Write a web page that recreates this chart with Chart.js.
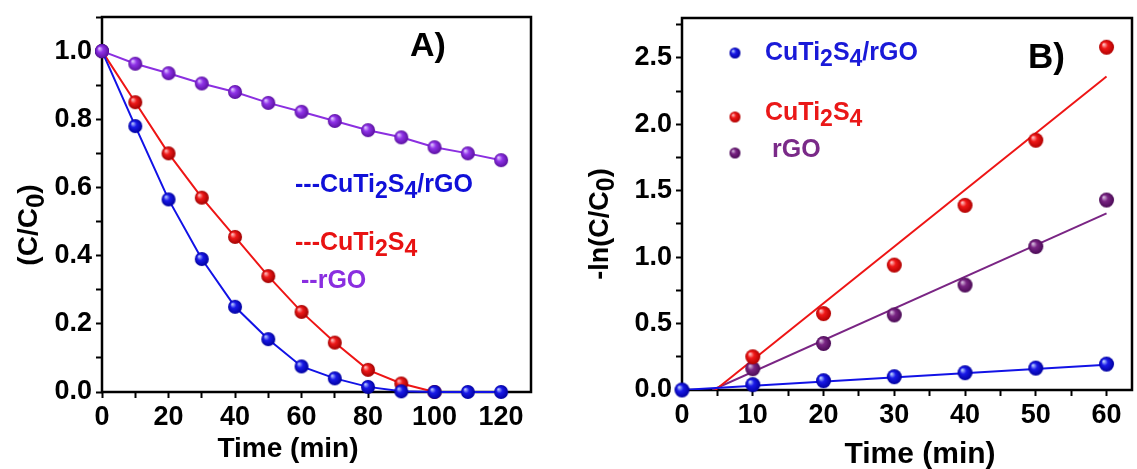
<!DOCTYPE html>
<html>
<head>
<meta charset="utf-8">
<script src="https://cdn.jsdelivr.net/npm/chart.js@4.4.1/dist/chart.umd.min.js"></script>
<style>
    html, body { margin: 0; padding: 0; background: #fff; }
    #wrap { position: relative; width: 1137px; height: 469px; overflow: hidden; }
    .panel { position: absolute; top: 0; height: 469px; }
    #pa { left: 0; width: 560px; }
    #pb { left: 570px; width: 567px; }
</style>
</head>
<body>
<div id="wrap">
    <div class="panel" id="pa"><canvas id="chartA"></canvas></div>
    <div class="panel" id="pb"><canvas id="chartB"></canvas></div>
</div>
<script>
// ===== DATA ===== //
// Panel A: C/C0 vs time
const timeA = [0, 10, 20, 30, 40, 50, 60, 70, 80, 90, 100, 110, 120];
const hybridA = [1.0, 0.78, 0.565, 0.39, 0.25, 0.155, 0.075, 0.04, 0.015, 0.002, 0.0, 0.0, 0.0];
const cutsA = [1.0, 0.85, 0.70, 0.57, 0.455, 0.34, 0.235, 0.145, 0.065, 0.025, 0.0];
const rgoA = [1.0, 0.963, 0.935, 0.905, 0.88, 0.848, 0.822, 0.795, 0.768, 0.747, 0.718, 0.70, 0.68];

// Panel B: -ln(C/C0) vs time with linear fits
const timeB = [0, 10, 20, 30, 40, 50, 60];
const hybridB = [0.0, 0.04, 0.07, 0.10, 0.13, 0.165, 0.195];
const cutsB = [null, 0.25, 0.575, 0.94, 1.39, 1.88, 2.58];
const rgoB = [null, 0.16, 0.35, 0.565, 0.79, 1.08, 1.43];

const hybridFitX = [0, 60];
const hybridFitY = [0.0, 0.19];
const cutsFitX = [4.7, 60];
const cutsFitY = [0.0, 2.36];
const rgoFitX = [4.3, 60];
const rgoFitY = [0.0, 1.33];

// axis ranges / tick steps
const axisA = { xMax: 129, xStep: 10, xLabelEvery: 20, yMax: 1.1, yStep: 0.1, yLabelEvery: 0.2 };
const axisB = { xMax: 63.6, xStep: 5, xLabelEvery: 10, yMax: 2.8, yStep: 0.25, yLabelEvery: 0.5 };

// ===== HELPERS ===== //
const FONT = '"Liberation Sans", Arial, sans-serif';

const toPoints = (xs, ys) => xs.map((x, i) => ({ x: x, y: ys[i] })).filter(p => p.y !== null && p.y !== undefined);

function sphere(base, light, dark, r) {
    const c = document.createElement('canvas');
    const s = Math.ceil(r * 2) + 2;
    c.width = c.height = s;
    const g = c.getContext('2d');
    const m = s / 2;
    const grad = g.createRadialGradient(m - r * 0.4, m - r * 0.4, r * 0.05, m, m, r);
    grad.addColorStop(0, light);
    grad.addColorStop(0.4, base);
    grad.addColorStop(1, dark);
    g.fillStyle = grad;
    g.beginPath();
    g.arc(m, m, r, 0, Math.PI * 2);
    g.fill();
    return c;
}

// "CuTi_2S_4" -> subscript digits after "_"
function drawRich(ctx, text, x, y, size, color, rotate, center) {
    const parts = text.split(/_(\d)/);
    ctx.save();
    ctx.fillStyle = color;
    ctx.textBaseline = 'alphabetic';
    ctx.textAlign = 'left';
    const fonts = parts.map((p, i) => `bold ${i % 2 ? Math.round(size * 0.92) : size}px ${FONT}`);
    let total = 0;
    parts.forEach((p, i) => { ctx.font = fonts[i]; total += ctx.measureText(p).width; });
    ctx.translate(x, y);
    if (rotate) ctx.rotate(-Math.PI / 2);
    let cx = center ? -total / 2 : 0;
    parts.forEach((p, i) => {
        ctx.font = fonts[i];
        ctx.fillText(p, cx, i % 2 ? size * 0.24 : 0);
        cx += ctx.measureText(p).width;
    });
    ctx.restore();
}

// frame around plot area + free text / legend markers
const framePlugin = {
    id: 'frame',
    beforeDatasetsDraw(chart) {
        const { ctx, chartArea: a } = chart;
        ctx.save();
        ctx.strokeStyle = '#000';
        ctx.lineWidth = 2.5;
        ctx.strokeRect(a.left, a.top, a.right - a.left, a.bottom - a.top);
        ctx.restore();
    },
    afterDraw(chart, args, opts) {
        const ctx = chart.ctx;
        (opts.texts || []).forEach(t => drawRich(ctx, t.text, t.x, t.y, t.size, t.color, t.rotate, t.center));
        (opts.markers || []).forEach(m => ctx.drawImage(m.img, m.x - m.img.width / 2, m.y - m.img.height / 2));
    }
};

function linearAxis(cfg, which, width) {
    const step = which === 'x' ? cfg.xStep : cfg.yStep;
    const every = which === 'x' ? cfg.xLabelEvery : cfg.yLabelEvery;
    return {
        type: 'linear',
        min: 0,
        max: which === 'x' ? cfg.xMax : cfg.yMax,
        border: { display: false },
        grid: { drawOnChartArea: false, drawTicks: true, tickLength: 6, tickWidth: 2, tickColor: '#000' },
        ticks: {
            stepSize: step,
            includeBounds: false,
            color: '#000',
            padding: which === 'x' ? 3 : 4,
            font: { family: FONT, size: 27, weight: 'bold' },
            maxRotation: 0,
            autoSkip: false,
            callback: v => {
                const k = v / every;
                if (Math.abs(k - Math.round(k)) > 1e-6) return '';
                return which === 'x' ? String(Math.round(v)) : v.toFixed(1);
            }
        },
        afterBuildTicks: s => {
            s.ticks = s.ticks.filter(t => Math.abs(t.value / step - Math.round(t.value / step)) < 1e-6);
        },
        afterFit: s => {
            if (which === 'x') s.height = width; else s.width = width;
            s.paddingLeft = 0; s.paddingRight = 0; s.paddingTop = 0; s.paddingBottom = 0;
        }
    };
}

// ===== COLOURS ===== //
const blue = '#1212e6', red = '#ee1515', violet = '#8b2fe0', plum = '#7a2584';
const ballBlueA = sphere('#1a1ae8', '#b8c8ff', '#0000a0', 7);
const ballRedA = sphere('#ee1a1a', '#ffc0c0', '#a00000', 7);
const ballVioletA = sphere('#9033e8', '#e0c8ff', '#5a10a0', 7);
const ballBlueB = sphere('#1a1ae8', '#c0d8ff', '#0000a0', 7.5);
const ballRedB = sphere('#f01818', '#ffc8c8', '#b00000', 7.5);
const ballPlumB = sphere('#7a2584', '#d8c0e0', '#4a0a55', 7.5);
const dotBlue = sphere('#1a1ae8', '#c0d8ff', '#0000a0', 5.5);
const dotRed = sphere('#f01818', '#ffc8c8', '#b00000', 5.5);
const dotPlum = sphere('#7a2584', '#d8c0e0', '#4a0a55', 5.5);

Chart.defaults.animation = false;

// ===== CHART A ===== //
new Chart(document.getElementById('chartA'), {
    type: 'line',
    data: {
        datasets: [
            { data: toPoints(timeA, rgoA), borderColor: violet, borderWidth: 2, pointStyle: ballVioletA, clip: false },
            { data: toPoints(timeA, hybridA), borderColor: blue, borderWidth: 2, pointStyle: ballBlueA, clip: false },
            { data: toPoints(timeA, cutsA), borderColor: red, borderWidth: 2, pointStyle: ballRedA, clip: false }
        ]
    },
    options: {
        responsive: true,
        maintainAspectRatio: false,
        layout: { padding: { top: 17, right: 29, left: 0, bottom: 0 } },
        elements: { line: { tension: 0 } },
        plugins: {
            legend: { display: false },
            tooltip: { enabled: false },
            frame: {
                texts: [
                    { text: '---CuTi_2S_4/rGO', x: 295, y: 192, size: 25, color: '#1010d8' },
                    { text: '---CuTi_2S_4', x: 295, y: 250, size: 25, color: '#e81212' },
                    { text: '--rGO', x: 301, y: 288, size: 25, color: '#8a2ee0' },
                    { text: 'A)', x: 410, y: 56, size: 34, color: '#000' },
                    { text: 'Time (min)', x: 288, y: 457, size: 28, color: '#000', center: true },
                    { text: '(C/C_0)', x: 37, y: 225, size: 28, color: '#000', rotate: true, center: true }
                ]
            }
        },
        scales: {
            x: linearAxis(axisA, 'x', 77),
            y: linearAxis(axisA, 'y', 102)
        }
    },
    plugins: [framePlugin]
});

// ===== CHART B ===== //
new Chart(document.getElementById('chartB'), {
    type: 'scatter',
    data: {
        datasets: [
            { data: toPoints(timeB, hybridB), pointStyle: ballBlueB, showLine: false, clip: false },
            { data: toPoints(timeB, cutsB), pointStyle: ballRedB, showLine: false, clip: false },
            { data: toPoints(timeB, rgoB), pointStyle: ballPlumB, showLine: false, clip: false },
            { data: toPoints(hybridFitX, hybridFitY), showLine: true, pointRadius: 0, borderColor: blue, borderWidth: 2 },
            { data: toPoints(cutsFitX, cutsFitY), showLine: true, pointRadius: 0, borderColor: red, borderWidth: 2 },
            { data: toPoints(rgoFitX, rgoFitY), showLine: true, pointRadius: 0, borderColor: plum, borderWidth: 2 }
        ]
    },
    options: {
        responsive: true,
        maintainAspectRatio: false,
        layout: { padding: { top: 18, right: 1, left: 0, bottom: 0 } },
        plugins: {
            legend: { display: false },
            tooltip: { enabled: false },
            frame: {
                markers: [
                    { img: dotBlue, x: 165, y: 53 },
                    { img: dotRed, x: 165, y: 117 },
                    { img: dotPlum, x: 165, y: 153 }
                ],
                texts: [
                    { text: 'CuTi_2S_4/rGO', x: 195, y: 60, size: 25, color: '#1a1ad8' },
                    { text: 'CuTi_2S_4', x: 195, y: 120, size: 25, color: '#ea1818' },
                    { text: 'rGO', x: 202, y: 157, size: 25, color: '#7a2a88' },
                    { text: 'B)', x: 458, y: 68, size: 35, color: '#000' },
                    { text: 'Time (min)', x: 350, y: 463, size: 30, color: '#000', center: true },
                    { text: '-ln(C/C_0)', x: 38, y: 224, size: 27, color: '#000', rotate: true, center: true }
                ]
            }
        },
        scales: {
            x: linearAxis(axisB, 'x', 79),
            y: linearAxis(axisB, 'y', 112)
        }
    },
    plugins: [framePlugin]
});
</script>
</body>
</html>
